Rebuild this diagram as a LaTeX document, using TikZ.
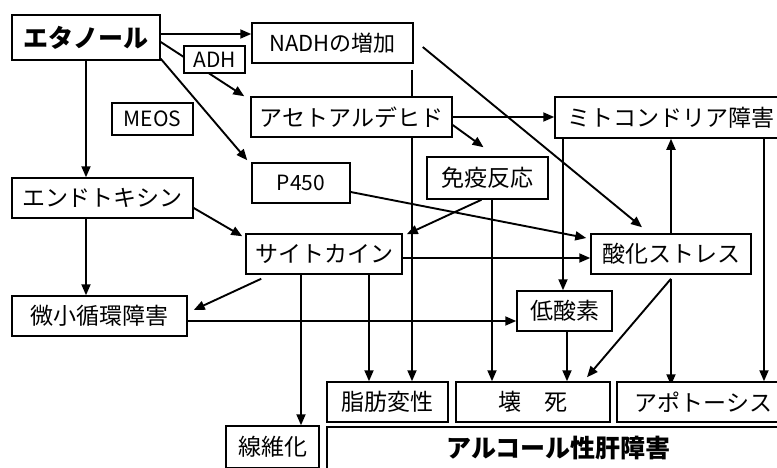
\documentclass[tikz,border=0pt]{standalone}
\usepackage{fontspec}
\setmainfont{Noto Sans CJK JP}
\usetikzlibrary{arrows.meta,backgrounds}
\tikzset{
  box/.style={draw=black,line width=1.5pt,fill=white,inner sep=0pt,font=\fontsize{23}{26}\selectfont},
  bigbox/.style={box,font=\fontsize{25}{28}\selectfont\bfseries},
  lbl/.style={box,font=\fontsize{21}{24}\selectfont},
  conn/.style={line width=1.9pt,draw=black},
  arr/.style={conn,-{Triangle[length=11pt,width=9pt]}}
}
\begin{document}
\begin{tikzpicture}[x=1pt,y=-1pt]
\useasboundingbox (0,0) rectangle (777,467);
\clip (0,0) rectangle (777,467);
% guide coordinates
\coordinate (gx86) at (86,0);
\coordinate (gx301) at (301,0);
\coordinate (gx369) at (369,0);
\coordinate (gx412) at (412,0);
\coordinate (gx492) at (492,0);
\coordinate (gx563) at (563,0);
\coordinate (gx567) at (567,0);
\coordinate (gx764) at (764,0);
% nodes
\node[bigbox,minimum width=148pt,minimum height=45pt] (eth) at (86,37.5) {エタノール};
\node[box,minimum width=161pt,minimum height=40pt,font=\fontsize{22}{25}\selectfont] (nadh) at (332.5,43) {NADHの増加};
\node[lbl,minimum width=61pt,minimum height=27pt] (adh) at (214.5,59.5) {ADH};
\node[lbl,minimum width=81pt,minimum height=32pt] (meos) at (152.5,119) {MEOS};
\node[box,minimum width=201pt,minimum height=40pt] (acet) at (351.5,117) {アセトアルデヒド};
\node[box,minimum width=232pt,minimum height=41pt] (mito) at (671,117.5) {ミトコンドリア障害};
\node[box,minimum width=121pt,minimum height=42pt] (immune) at (487.5,178) {免疫反応};
\node[lbl,minimum width=98pt,minimum height=40pt] (p450) at (301,183) {P450};
\node[box,minimum width=181pt,minimum height=40pt] (endo) at (102.5,198) {エンドトキシン};
\node[box,minimum width=156pt,minimum height=40pt] (cyto) at (324,254) {サイトカイン};
\node[box,minimum width=160pt,minimum height=40pt] (oxid) at (671,254) {酸化ストレス};
\node[box,minimum width=175pt,minimum height=40pt] (micro) at (99.5,316) {微小循環障害};
\node[box,minimum width=95pt,minimum height=40pt] (hypox) at (564.5,311) {低酸素};
\node[box,minimum width=121pt,minimum height=40pt] (fat) at (387.5,402) {脂肪変性};
\node[box,minimum width=154pt,minimum height=40pt] (necro) at (533,402) {壊　死};
\node[box,minimum width=173pt,minimum height=40pt] (apop) at (703.5,402) {アポトーシス};
\node[box,minimum width=93pt,minimum height=42pt] (fib) at (272.5,447) {線維化};
\node[bigbox,minimum width=463pt,minimum height=42pt] (alc) at (558.5,448) {アルコール性肝障害};
% connectors
\begin{pgfonlayer}{background}
\draw[arr] ([yshift=3.5pt]eth.east) -- ([yshift=3.5pt]eth.east -| nadh.west);
\draw[arr] ([yshift=-4.5pt]eth.east) -- ([xshift=-6pt]acet.north west);
\draw[arr] ([yshift=2pt]eth.south east) -- ([xshift=-4pt,yshift=2pt]p450.north west);
\draw[arr] (eth.south -| gx86) -- (endo.north -| gx86);
\draw[arr] ([yshift=-6pt]nadh.south -| gx412) -- (fat.north -| gx412);
\draw[arr] ([xshift=9pt,yshift=-4pt]nadh.east) -- ([xshift=-29pt,yshift=6pt]oxid.north);
\draw[arr] (acet.east) -- (acet.east -| mito.west);
\draw[arr] ([yshift=-8pt]acet.east) -- ([xshift=-4pt,yshift=9pt]immune.north);
\draw[arr] (mito.south -| gx563) -- (hypox.north -| gx563);
\draw[arr] (oxid.north) -- (oxid.north |- mito.south);
\draw[arr] (mito.south -| gx764) -- (apop.north -| gx764);
\draw[arr] ([yshift=-9pt]p450.east) -- ([xshift=-4pt,yshift=16pt]oxid.west);
\draw[arr] ([xshift=-6pt]immune.south) -- ([xshift=4pt,yshift=-1pt]cyto.north east);
\draw[arr] (immune.south -| gx492) -- (necro.north -| gx492);
\draw[arr] ([yshift=-10pt]endo.east) -- ([xshift=-3pt,yshift=-3pt]cyto.north west);
\draw[arr] (endo.south -| gx86) -- (micro.north -| gx86);
\draw[arr] ([xshift=16pt,yshift=-4pt]cyto.south west) -- ([xshift=6pt,yshift=6pt]micro.east);
\draw[arr] ([yshift=-4pt]cyto.east) -- ([yshift=-4pt]cyto.east -| oxid.west);
\draw[arr] ([yshift=-5pt]micro.east) -- ([yshift=-5pt]micro.east -| hypox.west);
\draw[arr] (cyto.south -| gx301) -- (fib.north -| gx301);
\draw[arr] (cyto.south -| gx369) -- (fat.north -| gx369);
\draw[arr] (hypox.south -| gx567) -- (necro.north -| gx567);
\draw[arr] ([yshift=-4pt]oxid.south) -- ([xshift=54pt,yshift=4pt]necro.north);
\draw[arr] ([yshift=-4pt]oxid.south) -- ([yshift=-4pt]oxid.south |- apop.north);
\end{pgfonlayer}
\end{tikzpicture}
\end{document}
